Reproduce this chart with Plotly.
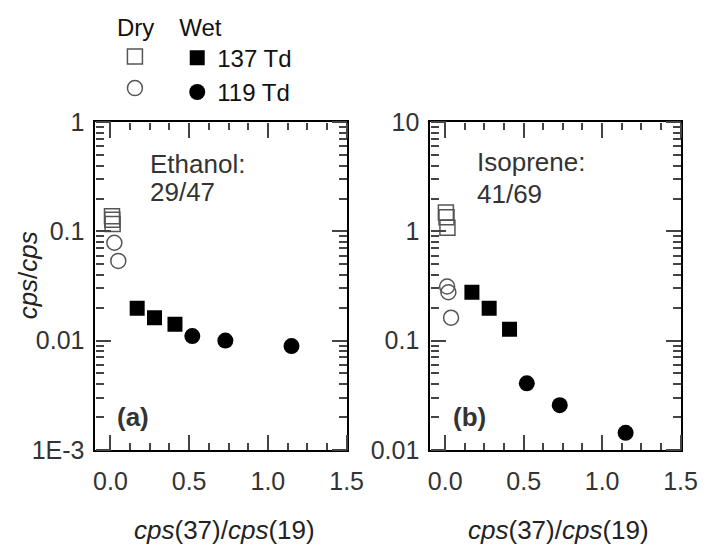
import plotly.graph_objects as go

# Ratio cps(37)/cps(19) on the x axis, product/parent ion ratio on the y axis
dry_sq_x_a = [0.010, 0.012, 0.014]
dry_sq_y_a = [0.138, 0.128, 0.117]
dry_ci_x_a = [0.025, 0.050]
dry_ci_y_a = [0.0787, 0.0537]

dry_sq_x_b = [0.004, 0.008, 0.014]
dry_sq_y_b = [1.49, 1.35, 1.08]
dry_ci_x_b = [0.012, 0.020, 0.037]
dry_ci_y_b = [0.313, 0.277, 0.162]

wet_sq_x = [0.17, 0.28, 0.41]
wet_ci_x = [0.52, 0.73, 1.15]
wet_sq_y_a = [0.0198, 0.0162, 0.0141]
wet_ci_y_a = [0.0110, 0.0100, 0.0089]
wet_sq_y_b = [0.277, 0.198, 0.127]
wet_ci_y_b = [0.0406, 0.0256, 0.0143]

y_ticks_a = [0.001, 0.01, 0.1, 1]
y_text_a = ["1E-3", "0.01", "0.1", "1"]
y_ticks_b = [0.01, 0.1, 1, 10]
y_text_b = ["0.01", "0.1", "1", "10"]

W, H = 717, 553
FONT = "Liberation Sans, Arial, sans-serif"
OPEN_COL = "#555555"
TICK_COL = "#444444"
MS = 15
X_RANGE = [-0.095, 1.5]

fig = go.Figure()


def add_panel(xa, ya, sqx, sqy, cix, ciy, wsy, wcy, show):
    fig.add_trace(go.Scatter(x=sqx, y=sqy, mode="markers", xaxis=xa, yaxis=ya,
                             name=" ", legend="legend", showlegend=show,
                             marker=dict(symbol="square-open", size=MS,
                                         color=OPEN_COL, line=dict(width=1.5))))
    fig.add_trace(go.Scatter(x=cix, y=ciy, mode="markers", xaxis=xa, yaxis=ya,
                             name=" ", legend="legend", showlegend=show,
                             marker=dict(symbol="circle-open", size=MS,
                                         color=OPEN_COL, line=dict(width=1.5))))
    fig.add_trace(go.Scatter(x=wet_sq_x, y=wsy, mode="markers", xaxis=xa, yaxis=ya,
                             name="137 Td", legend="legend2", showlegend=show,
                             marker=dict(symbol="square", size=MS, color="black")))
    fig.add_trace(go.Scatter(x=wet_ci_x, y=wcy, mode="markers", xaxis=xa, yaxis=ya,
                             name="119 Td", legend="legend2", showlegend=show,
                             marker=dict(symbol="circle", size=MS + 1, color="black")))


add_panel("x", "y", dry_sq_x_a, dry_sq_y_a, dry_ci_x_a, dry_ci_y_a,
          wet_sq_y_a, wet_ci_y_a, True)
add_panel("x2", "y2", dry_sq_x_b, dry_sq_y_b, dry_ci_x_b, dry_ci_y_b,
          wet_sq_y_b, wet_ci_y_b, False)

y_dom = [1 - 459 / H, 1 - 114 / H]
x_dom_a = [96 / W, 354 / W]
x_dom_b = [440 / W, 697 / W]
tf = dict(family=FONT, size=25, color="#333")

# Main axes: frame and tick labels only
frame = dict(showline=True, linewidth=2, linecolor="black", mirror=True,
             showgrid=False, zeroline=False, ticks="")
layout_axes = dict(
    xaxis=dict(domain=x_dom_a, anchor="y", range=X_RANGE, dtick=0.5, tick0=0,
               tickformat=".1f", tickfont=tf, ticklabelstandoff=8, **frame),
    xaxis2=dict(domain=x_dom_b, anchor="y2", range=X_RANGE, dtick=0.5, tick0=0,
                tickformat=".1f", tickfont=tf, ticklabelstandoff=8, **frame),
    yaxis=dict(domain=y_dom, anchor="x", type="log", range=[-3, 0],
               tickvals=y_ticks_a, ticktext=y_text_a, tickfont=tf,
               ticklabelstandoff=4, **frame),
    yaxis2=dict(domain=y_dom, anchor="x2", type="log", range=[-2, 1],
                tickvals=y_ticks_b, ticktext=y_text_b, tickfont=tf,
                ticklabelstandoff=4, **frame),
)

# Tick-only axes laid over each frame edge; their outward ticks point into the plot
tick_base = dict(showline=False, showgrid=False, zeroline=False,
                 showticklabels=False, ticks="outside", tickwidth=2,
                 tickcolor=TICK_COL, anchor="free")
x_tick_axis = dict(range=X_RANGE, tick0=0, dtick=0.5, ticklen=15,
                   minor=dict(tick0=0, dtick=0.125, ticks="outside", ticklen=7,
                              tickwidth=2, tickcolor=TICK_COL, showgrid=False),
                   **tick_base)


def y_tick_axis(rng, decades):
    minor_vals = [m * 10.0 ** e for e in decades for m in range(2, 10)]
    return dict(type="log", range=rng, tickmode="array",
                tickvals=[10.0 ** e for e in decades] + [10.0 ** (decades[-1] + 1)],
                ticklen=15,
                minor=dict(tickmode="array", tickvals=minor_vals, ticks="outside",
                           ticklen=8, tickwidth=2, tickcolor=TICK_COL,
                           showgrid=False),
                **tick_base)


n = 3
panels = [("x", "y", x_dom_a, [-3, 0], [-3, -2, -1]),
          ("x2", "y2", x_dom_b, [-2, 1], [-2, -1, 0])]
for xname, yname, xdom, yrng, decs in panels:
    # bottom edge ticks (pointing up) and top edge ticks (pointing down)
    for side, pos in (("top", y_dom[0]), ("bottom", y_dom[1])):
        layout_axes["xaxis%d" % n] = dict(domain=xdom, overlaying=xname,
                                          side=side, position=pos,
                                          **x_tick_axis)
        # empty trace so the tick axis is registered and drawn
        fig.add_trace(go.Scatter(x=[], y=[], xaxis="x%d" % n, yaxis=yname,
                                 showlegend=False, hoverinfo="skip"))
        n += 1
    # left edge ticks (pointing right) and right edge ticks (pointing left)
    for side, pos in (("right", xdom[0]), ("left", xdom[1])):
        layout_axes["yaxis%d" % n] = dict(domain=y_dom, overlaying=yname,
                                          side=side, position=pos,
                                          **y_tick_axis(yrng, decs))
        fig.add_trace(go.Scatter(x=[], y=[], xaxis=xname, yaxis="y%d" % n,
                                 showlegend=False, hoverinfo="skip"))
        n += 1

fig.update_layout(
    width=W, height=H,
    margin=dict(l=0, r=0, t=0, b=0),
    paper_bgcolor="white", plot_bgcolor="white",
    font=dict(family=FONT, color="#222"),
    legend=dict(title=dict(text="Dry", side="top",
                           font=dict(family=FONT, size=24, color="#111")),
                x=116 / W, y=1 + 10 / H, xanchor="left", yanchor="top",
                bgcolor="rgba(0,0,0,0)", font=dict(family=FONT, size=22),
                tracegroupgap=0, itemwidth=30),
    legend2=dict(title=dict(text="Wet", side="top",
                            font=dict(family=FONT, size=24, color="#111")),
                 x=180 / W, y=1 + 10 / H, xanchor="left", yanchor="top",
                 bgcolor="rgba(0,0,0,0)",
                 font=dict(family=FONT, size=24, color="#111"),
                 tracegroupgap=0, itemwidth=30),
    **layout_axes,
)

ann_font = dict(family=FONT, size=26, color="#333")
annotations = [
    dict(text="Ethanol:", x=150 / W, y=1 - 158 / H),
    dict(text="29/47", x=150 / W, y=1 - 188 / H),
    dict(text="Isoprene:", x=486 / W, y=1 - 156 / H),
    dict(text="41/69", x=486 / W, y=1 - 190 / H),
    dict(text="<b>(a)</b>", x=116 / W, y=1 - 424 / H),
    dict(text="<b>(b)</b>", x=461 / W, y=1 - 424 / H),
]
for a in annotations:
    fig.add_annotation(xref="paper", yref="paper", xanchor="left",
                       yanchor="middle", showarrow=False, font=ann_font, **a)

fig.add_annotation(text="<i>cps</i>/<i>cps</i>", xref="paper", yref="paper",
                   x=27 / W, y=1 - 275 / H, textangle=-90, showarrow=False,
                   xanchor="center", yanchor="middle",
                   font=dict(family=FONT, size=26, color="#222"))
for cx in (229, 572):
    fig.add_annotation(text="<i>cps</i>(37)/<i>cps</i>(19)", xref="paper",
                       yref="paper", x=cx / W, y=1 - 543 / H, showarrow=False,
                       xanchor="center", yanchor="middle",
                       font=dict(family=FONT, size=26, color="#222"))

fig.write_html("out.html")
